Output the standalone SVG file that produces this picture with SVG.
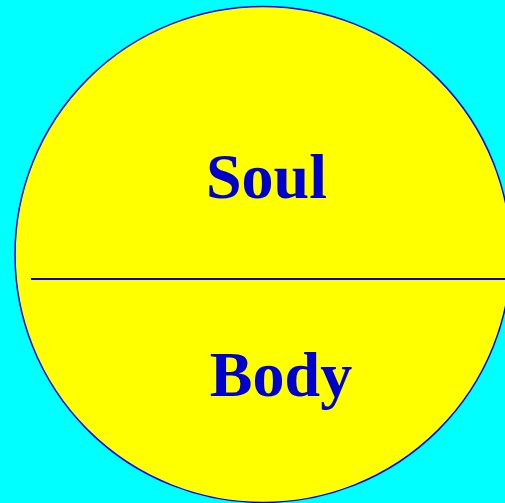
<svg xmlns="http://www.w3.org/2000/svg" width="505" height="503" viewBox="0 0 505 503">
<style>
.lbl{font-family:"Liberation Serif","Times New Roman",serif;font-weight:bold;font-size:64px;fill:#0000CC;text-anchor:middle}
</style>
<rect x="0" y="0" width="505" height="503" fill="#00FFFF"/>
<g id="circle">
<circle cx="263" cy="254.5" r="248" fill="#FFFF00" stroke="#0000FF" stroke-width="1.5"/>
</g>
<g id="connectors">
<line x1="31" y1="279" x2="505" y2="279" stroke="#0000FF" stroke-width="2"/>
</g>
<g id="soul"><text class="lbl" x="266.5" y="198">Soul</text></g>
<g id="body"><text class="lbl" x="281" y="396">Body</text></g>
</svg>
